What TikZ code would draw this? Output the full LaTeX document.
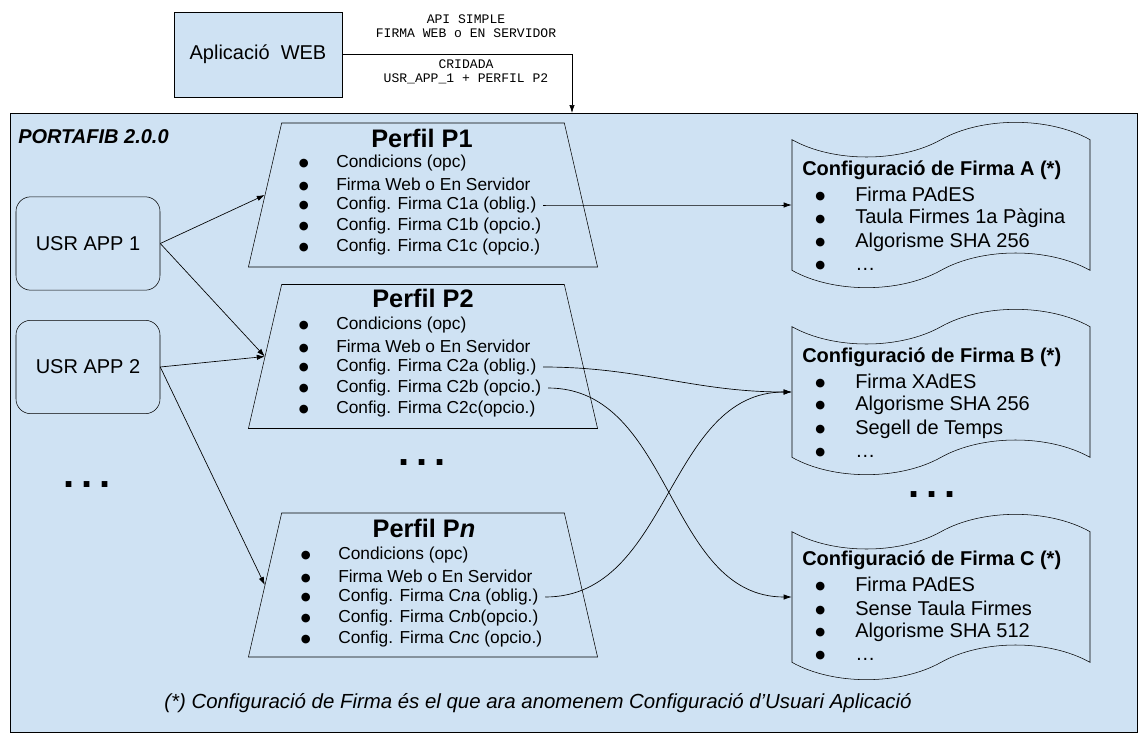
\documentclass[tikz,border=0pt]{standalone}
\usepackage{fontspec}
\setmainfont{Liberation Sans}
\setmonofont{Liberation Mono}
\newfontfamily\symfont{DejaVu Sans}
\usetikzlibrary{arrows.meta,positioning,shapes.geometric,shapes.symbols}
\definecolor{paneblue}{HTML}{CFE2F3}
\newcommand{\bigbullet}{\raisebox{0.06em}{\symfont\fontsize{8.5}{9}\selectfont ●}}

\begin{document}
\begin{tikzpicture}[
    x=0.75pt, y=-0.75pt,
    every node/.style={inner sep=0pt},
    usrbox/.style={draw, rounded corners=11pt, fill=paneblue, minimum width=108pt,
      minimum height=70pt, font=\fontsize{15}{18}\selectfont},
    perfil/.style={draw, trapezium, trapezium left angle=77, trapezium right angle=77,
      inner xsep=106pt, inner ysep=54pt, fill=paneblue},
    ptitle/.style={font=\bfseries\fontsize{19}{22}\selectfont},
    pitem/.style={anchor=west, inner xsep=2pt, font=\fontsize{13}{15}\selectfont},
    cfg/.style={draw, tape, tape bend top=in and out, tape bend bottom=in and out,
      tape bend height=26pt, minimum width=223.5pt, minimum height=124pt, fill=paneblue},
    ctitle/.style={anchor=west, font=\bfseries\fontsize{15}{18}\selectfont},
    citem/.style={anchor=west, font=\fontsize{15}{18}\selectfont},
    apilabel/.style={font=\ttfamily\fontsize{9.8}{10.5}\selectfont, align=center},
    dots/.style={font=\bfseries\fontsize{30}{30}\selectfont},
    link/.style={-{Latex[length=6pt,width=4pt]}, line width=0.5pt}
  ]
  \useasboundingbox (0,0) rectangle (1147,739);

  % outer frame and calling application
  \node[draw, fill=paneblue, minimum width=845.25pt, minimum height=464.25pt]
    (portafib) at (573.5,422.5) {};
  \node[draw, fill=paneblue, minimum width=126pt, minimum height=63.75pt,
    font=\fontsize{15}{18}\selectfont] (web) at (258,54.5) {Aplicació\ \ WEB};
  \node[apilabel] (api) at (466,26) {API SIMPLE\\FIRMA WEB o EN SERVIDOR};
  \node[apilabel] (call) at (466,72) {CRIDADA\\USR\_APP\_1 + PERFIL P2};
  \coordinate (entry) at (572,113);
  \draw[link] (web.east) -| (entry);
  \node[anchor=west, font=\bfseries\itshape\fontsize{15}{18}\selectfont]
    (sysname) at (18,137) {PORTAFIB 2.0.0};

  % user applications
  \node[usrbox] (usr1) at (88,243.5) {USR APP 1\hspace{8pt}};
  \node[usrbox] (usr2) at (88,367) {USR APP 2\hspace{8pt}};
  \node[dots] (usrdots) at (87,485) {.\,.\,.};

  % profiles
  \node[perfil] (p1) at (423,195) {};
  \node[perfil] (p2) at (423,356.5) {};
  \node[perfil] (pn) at (423,585) {};
  \node[ptitle] (p1t) at (422,138) {Perfil P1};
  \node[ptitle] (p2t) at (423,298) {Perfil P2};
  \node[ptitle] (pnt) at (424,528) {Perfil P\textit{n}};
  \node[dots] (pdots) at (422,463) {.\,.\,.};
  \foreach \txt [count=\i] in {Condicions (opc), Firma Web o En Servidor,
      Config. Firma C1a (oblig.), Config. Firma C1b (opcio.), Config. Firma C1c (opcio.)}
    \node[pitem] (p1i\i) at (296,142+21*\i) {\makebox[28pt][l]{\bigbullet}\txt};
  \foreach \txt [count=\i] in {Condicions (opc), Firma Web o En Servidor,
      Config. Firma C2a (oblig.), Config. Firma C2b (opcio.), Config. Firma C2c(opcio.)}
    \node[pitem] (p2i\i) at (296,304+21*\i) {\makebox[28pt][l]{\bigbullet}\txt};
  \foreach \txt [count=\i] in {Condicions (opc), Firma Web o En Servidor,
      Config. Firma C\textit{n}a (oblig.), Config. Firma C\textit{n}b(opcio.),
      Config. Firma C\textit{n}c (opcio.)}
    \node[pitem] (pni\i) at (298,534+21*\i) {\makebox[28pt][l]{\bigbullet}\txt};

  % signature configurations
  \node[cfg] (cfa) at (941,205) {};
  \node[cfg] (cfb) at (941,392) {};
  \node[cfg] (cfc) at (941,597) {};
  \node[dots] (cdots) at (932,495) {.\,.\,.};
  \node[ctitle] (cfat) at (802,170) {Configuració de Firma A (*)};
  \node[ctitle] (cfbt) at (802,357) {Configuració de Firma B (*)};
  \node[ctitle] (cfct) at (802,560) {Configuració de Firma C (*)};
  \foreach \txt [count=\i] in {Firma PAdES, Taula Firmes 1a Pàgina, Algorisme SHA 256, \ldots}
    \node[citem] (cfai\i) at (815,170+24*\i) {\makebox[30pt][l]{\bigbullet}\txt};
  \foreach \txt [count=\i] in {Firma XAdES, Algorisme SHA 256, Segell de Temps, \ldots}
    \node[citem] (cfbi\i) at (815,357+24*\i) {\makebox[30pt][l]{\bigbullet}\txt};
  \foreach \txt [count=\i] in {Firma PAdES, Sense Taula Firmes, Algorisme SHA 512, \ldots}
    \node[citem] (cfci\i) at (815,560+24*\i) {\makebox[30pt][l]{\bigbullet}\txt};

  % connectors
  \draw[link] (usr1.east) -- (p1.west);
  \draw[link] (usr1.east) -- (p2.west);
  \draw[link] (usr2.east) -- (p2.west);
  \draw[link] (usr2.east) -- (pn.west);
  \draw[link] ([xshift=3pt]p1i3.east) to[out=0,in=180] (cfa.west);
  \draw[link] ([xshift=3pt]p2i3.east) to[out=0,in=180] (cfb.west);
  \draw[link] ([xshift=3pt]p2i4.east) to[out=0,in=180] (cfc.west);
  \draw[link] ([xshift=3pt]pni3.east) to[out=0,in=180] (cfb.west);

  \node[font=\itshape\fontsize{15.3}{18}\selectfont] (note) at (538,703)
    {(*) Configuració de Firma és el que ara anomenem Configuració d’Usuari Aplicació};
\end{tikzpicture}
\end{document}
